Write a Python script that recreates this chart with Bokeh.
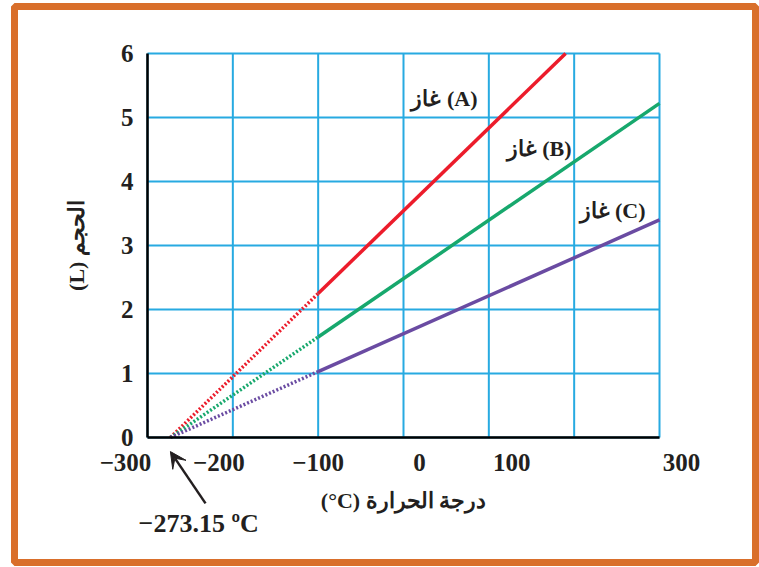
from bokeh.plotting import figure
from bokeh.models import Range1d, FixedTicker, Arrow, VeeHead
from bokeh.core.properties import value
from bokeh.embed import file_html
from bokeh.resources import INLINE

# Gas volume vs temperature (Charles's law), extrapolated to absolute zero
abs_zero = -273.15

temp_a = [-100, 190]
vol_a = [2.25, 6.0]
temp_b = [-100, 300]
vol_b = [1.57, 5.22]
temp_c = [-100, 300]
vol_c = [1.03, 3.40]

series_names = ["غاز (A)", "غاز (B)", "غاز (C)"]
series_colors = ["#EC1C2B", "#17A86D", "#6A4BA2"]

x_tick_values = [-300, -200, -100, 0, 100, 300]
x_tick_labels = ["−300", "−200", "−100", "0", "100", "300"]
x_grid_values = [-300, -200, -100, 0, 100, 200, 300]
y_tick_values = [0, 1, 2, 3, 4, 5, 6]

GRID = "#27AAE1"
ORANGE = "#D96F2B"
INK = "#231F20"
SERIF = "Liberation Serif"

# canvas geometry: the orange frame is the plot outline, the graph sits inside it
W, H = 759, 567
FL, FR, FT, FB = 14, 755, 6, 562          # frame edges (px)
GL, GR, GT, GB = 147, 659, 53, 437        # graph area edges (px)
xmin, xmax = x_grid_values[0], x_grid_values[-1]
ymin, ymax = y_tick_values[0], y_tick_values[-1]
sx = (xmax - xmin) / (GR - GL)
sy = (ymax - ymin) / (GB - GT)

p = figure(width=W, height=H, output_backend="svg", toolbar_location=None,
           x_range=Range1d(xmin - (GL - FL) * sx, xmax + (FR - GR) * sx),
           y_range=Range1d(ymin - (FB - GB) * sy, ymax + (GT - FT) * sy),
           min_border_left=FL, min_border_right=W - FR,
           min_border_top=FT, min_border_bottom=H - FB)
p.background_fill_color = "white"
p.border_fill_color = "white"
p.outline_line_color = ORANGE
p.outline_line_width = 7
p.grid.visible = False

# grid over the graph area only
p.segment(x0=x_grid_values, y0=[ymin] * len(x_grid_values),
          x1=x_grid_values, y1=[ymax] * len(x_grid_values),
          line_color=GRID, line_width=2)
p.segment(x0=[xmin] * len(y_tick_values), y0=y_tick_values,
          x1=[xmax] * len(y_tick_values), y1=y_tick_values,
          line_color=GRID, line_width=2)

# axes crossing at (-300, 0)
p.yaxis.fixed_location = xmin
p.yaxis.bounds = (ymin, ymax)
p.yaxis.ticker = FixedTicker(ticks=y_tick_values)
p.xaxis.fixed_location = ymin
p.xaxis.bounds = (xmin, xmax)
p.xaxis.ticker = FixedTicker(ticks=[])

for ax in (p.xaxis, p.yaxis):
    ax.axis_line_color = "black"
    ax.axis_line_width = 2.5
    ax.major_tick_line_color = None
    ax.minor_tick_line_color = None
    ax.axis_label_text_font = SERIF
    ax.axis_label_text_font_style = "bold"
    ax.axis_label_text_font_size = "22px"
    ax.axis_label_text_color = INK

p.yaxis.major_label_text_font = SERIF
p.yaxis.major_label_text_font_style = "bold"
p.yaxis.major_label_text_font_size = "25px"
p.yaxis.major_label_text_color = INK
p.yaxis.major_label_standoff = 8
p.yaxis.axis_label = "(L) الحجم"
p.yaxis.axis_label_standoff = 29

p.xaxis.axis_label = "(°C) درجة الحرارة"
p.xaxis.axis_label_standoff = 50

# x tick labels, nudged sideways as printed
p.text(x=x_tick_values, y=[ymin] * len(x_tick_values), text=x_tick_labels,
       x_offset=[-22, -14, 0, 16, 23, 22], y_offset=25,
       text_align="center", text_baseline="middle",
       text_font=value(SERIF), text_font_style="bold", text_font_size="25px",
       text_color=INK)

# measured (solid) and extrapolated (dotted) segments
for temps, vols, color in ((temp_a, vol_a, series_colors[0]),
                           (temp_b, vol_b, series_colors[1]),
                           (temp_c, vol_c, series_colors[2])):
    p.line([abs_zero, temps[0]], [0, vols[0]], line_color=color,
           line_width=3.5, line_dash="2 2")
    p.line(temps, vols, line_color=color, line_width=3.5)

# series names
p.text(x=[48, 159, 245], y=[5.3, 4.52, 3.55], text=series_names,
       text_font=value(SERIF), text_font_style="bold", text_font_size="22px",
       text_align="center", text_baseline="middle", text_color=INK)

# absolute zero callout
p.add_layout(Arrow(end=VeeHead(size=16, fill_color=INK, line_color=INK),
                   x_start=-232, y_start=-1.03, x_end=abs_zero, y_end=-0.22,
                   line_color=INK, line_width=2.5))
p.text(x=[-240], y=[-1.344], text=["−273.15 ºC"], text_align="center",
       text_baseline="middle", text_font=value(SERIF), text_font_style="bold",
       text_font_size="26px", text_color=INK)

open("out.html", "w").write(file_html(p, INLINE))
